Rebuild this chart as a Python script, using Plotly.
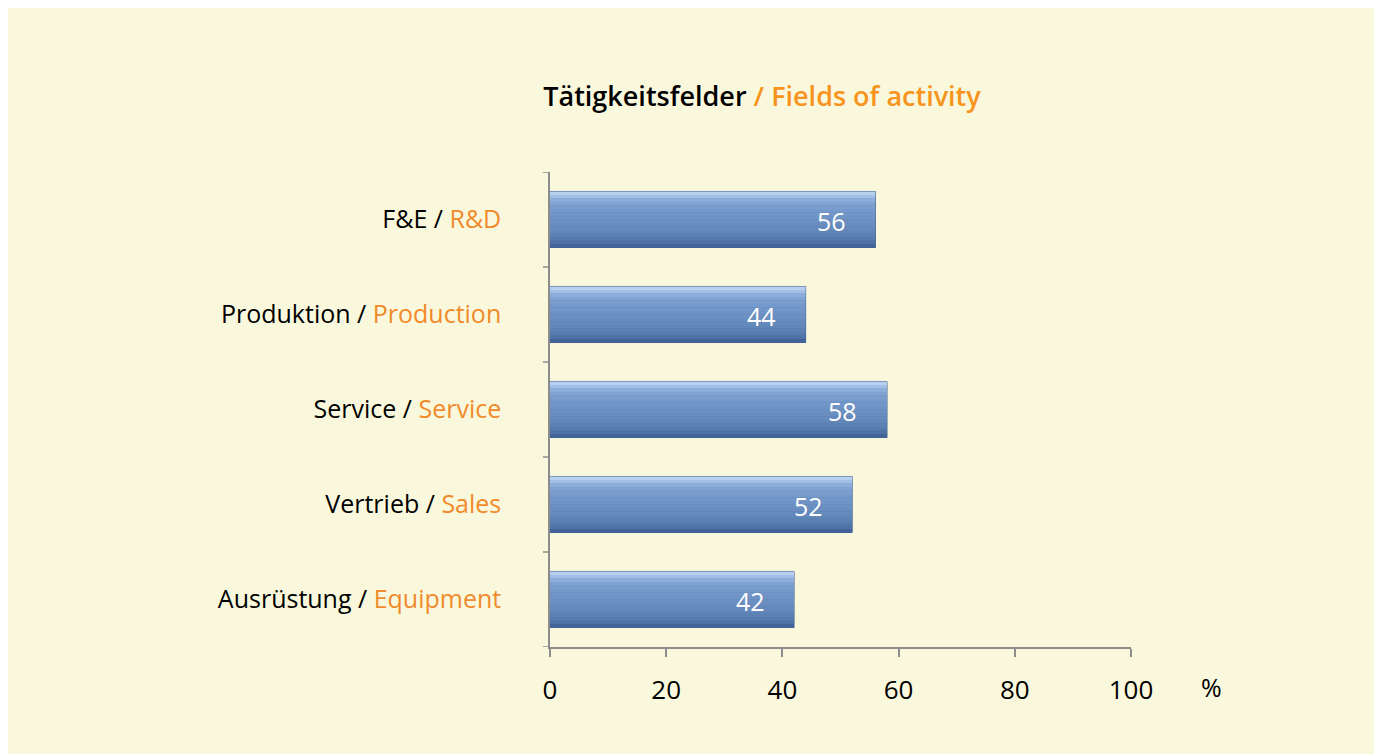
import plotly.graph_objects as go

categories_de = ["F&E", "Produktion", "Service", "Vertrieb", "Ausrüstung"]
categories_en = ["R&D", "Production", "Service", "Sales", "Equipment"]
values = [56, 44, 58, 52, 42]
x_ticks = [0, 20, 40, 60, 80, 100]

ORANGE = "#F08A2B"
TITLE_ORANGE = "#F7941D"
BG = "#FAF8DC"
FONT = "Open Sans"
AXIS = "#8C8C8C"

# page has an 8px body margin; figure occupies the rest of the window
OFF = 8
W, H = 1382 - OFF, 754 - OFF
L = 550 - OFF
T = 172 - OFF
R = W - (1131 - OFF)
B = H - (647 - OFF)
pw, ph = W - L - R, H - T - B


def px_x(x):  # screen px -> paper x
    return (x - OFF - L) / pw


def px_y(y):  # screen px -> paper y
    return (H - (y - OFF) - B) / ph


tick_text = [f"{de} / <span style='color:{ORANGE}'>{en}</span>" for de, en in zip(categories_de, categories_en)]
ypos = list(range(len(values)))

fig = go.Figure()

bar_w = 0.59
strips = [
    "#B7D0F0", "#A2BFE5", "#8DAEDA", "#80A3D2", "#799DCD", "#7599CA", "#7296C8",
    "#6F93C5", "#6C90C2", "#698DBF", "#658ABC", "#6186B8", "#5C81B3", "#567BAD",
    "#4E72A5", "#43649A",
]
n = len(strips)
sw = bar_w / n
fig.add_trace(go.Bar(y=ypos, x=values, orientation="h", width=bar_w,
                     marker=dict(color="#4A6A9C", line=dict(color="#3E5D8E", width=1)),
                     hoverinfo="skip", showlegend=False))
for i, c in enumerate(strips):
    off = -bar_w / 2 + i * sw
    fig.add_trace(go.Bar(y=ypos, x=values, orientation="h", width=sw * 1.05, offset=off,
                         marker=dict(color=c, line=dict(width=0)),
                         hoverinfo="skip", showlegend=False))

for yv, v in zip(ypos, values):
    fig.add_annotation(x=v, y=yv, xref="x", yref="y", text=str(v), showarrow=False,
                       xanchor="center", yanchor="middle", xshift=-44, yshift=-1,
                       font=dict(family=FONT, size=25, color="white"))

fig.add_annotation(x=px_x(1211), y=px_y(687), xref="paper", yref="paper", text="%",
                   xanchor="center", yanchor="middle",
                   showarrow=False, font=dict(family=FONT, size=25, color="black"))

fig.update_layout(
    width=W, height=H,
    margin=dict(l=L, r=R, t=T, b=B),
    paper_bgcolor=BG,
    plot_bgcolor=BG,
    barmode="overlay",
    showlegend=False,
    font=dict(family=FONT, size=25, color="black"),
    xaxis=dict(range=[0, 100], tickvals=x_ticks, ticktext=[str(t) for t in x_ticks],
               showgrid=False, zeroline=False, showline=True, linecolor=AXIS, linewidth=1.5,
               ticks="outside", ticklen=8, tickcolor=AXIS, tickwidth=1.5,
               ticklabelstandoff=11, tickfont=dict(family=FONT, size=26, color="black"),
               fixedrange=True),
    yaxis=dict(tickvals=ypos, ticktext=tick_text, range=[len(values) - 0.5, -0.5],
               showgrid=False, zeroline=False, showline=True, linecolor=AXIS, linewidth=1.5,
               ticks="", ticklabelstandoff=42, tickfont=dict(family=FONT, size=25, color="black"),
               fixedrange=True),
    title=dict(text=f"Tätigkeitsfelder <span style='color:{TITLE_ORANGE}'>/ Fields of activity</span>",
               x=(762 - OFF) / W, xanchor="center", y=1 - (97 - OFF) / H, yanchor="middle",
               xref="container", yref="container",
               font=dict(family=FONT, size=27, color="black", weight=600)),
)

for b in [p - 0.5 for p in ypos] + [ypos[-1] + 0.5]:
    fig.add_shape(type="line", xref="paper", yref="y", x0=-7 / pw, x1=0, y0=b, y1=b,
                  line=dict(color=AXIS, width=1.5))

fig.write_html("out.html")
